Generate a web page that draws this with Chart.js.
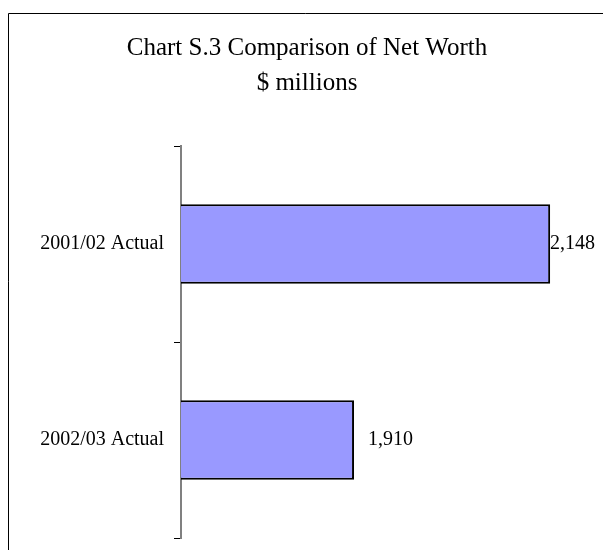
<!DOCTYPE html>
<html>
<head>
<meta charset="utf-8">
<script src="https://cdn.jsdelivr.net/npm/chart.js@4/dist/chart.umd.min.js"></script>
<style>
  html, body { margin: 0; padding: 0; background: #fff; overflow: hidden; }
</style>
</head>
<body>
<canvas id="net-worth" width="603" height="550"></canvas>
<script>
'use strict'

// categories and values ($ millions)
const years = ['2001/02 Actual', '2002/03 Actual']
const netWorth = [2148, 1910]
const titleLines = ['Chart S.3 Comparison of Net Worth', '$ millions']

// value axis range (axis itself is hidden)
const valueMin = 1700
const valueMax = 2200

const serif = "'Liberation Serif', 'Times New Roman', serif"

// outer chart border, only left and top edges are visible
const frame = {
  id: 'frame',
  beforeDraw(chart) {
    const c = chart.ctx
    c.save()
    c.strokeStyle = '#000'
    c.lineWidth = 1
    c.beginPath()
    c.moveTo(8.5, chart.height)
    c.lineTo(8.5, 13.5)
    c.lineTo(chart.width, 13.5)
    c.stroke()
    c.restore()
  }
}

// number labels next to bar ends, pulled back inside if they overflow
const barValues = {
  id: 'barValues',
  afterDatasetsDraw(chart) {
    const c = chart.ctx
    const area = chart.chartArea
    const meta = chart.getDatasetMeta(0)
    c.save()
    c.font = '20px ' + serif
    c.fillStyle = '#000'
    c.textBaseline = 'middle'
    c.textAlign = 'left'
    meta.data.forEach((bar, i) => {
      const txt = netWorth[i].toLocaleString('en-US')
      const w = c.measureText(txt).width
      const x = Math.min(bar.x + 14, area.right + 2 - w)
      c.fillText(txt, x, bar.y)
    })
    c.restore()
  }
}

const ctx = document.getElementById('net-worth')
new Chart(ctx, {
  type: 'bar',
  data: {
    labels: years,
    datasets: [{
      data: netWorth,
      backgroundColor: '#9999ff',
      borderColor: '#000',
      borderWidth: 2,
      borderSkipped: false,
      barPercentage: 0.405,
      categoryPercentage: 1
    }]
  },
  options: {
    indexAxis: 'y',
    responsive: false,
    animation: false,
    devicePixelRatio: 1,
    layout: {
      padding: { left: 21, right: 10, top: 31, bottom: 12 }
    },
    plugins: {
      legend: { display: false },
      tooltip: { enabled: false },
      title: {
        display: true,
        text: titleLines,
        color: '#000',
        font: { family: serif, size: 25, weight: 'normal', lineHeight: 1.4 },
        padding: { top: 0, bottom: 45 }
      }
    },
    scales: {
      x: {
        display: false,
        min: valueMin,
        max: valueMax
      },
      y: {
        afterFit: scale => {
          scale.width = 160
          scale.paddingTop = 0
          scale.paddingBottom = 0
        },
        border: { display: true, color: '#808080', width: 2 },
        grid: {
          drawOnChartArea: false,
          drawTicks: true,
          tickLength: 7,
          tickColor: '#000',
          tickWidth: 1
        },
        ticks: {
          color: '#000',
          padding: 10,
          font: { family: serif, size: 20 }
        }
      }
    }
  },
  plugins: [frame, barValues]
})
</script>
</body>
</html>
